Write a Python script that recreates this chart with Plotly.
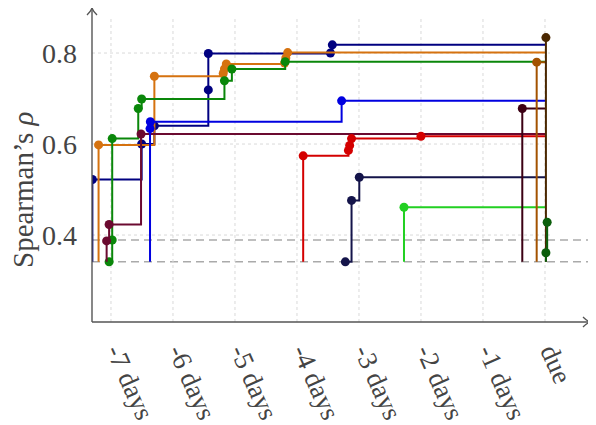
import plotly.graph_objects as go

# ---- axis / reference values ----
days = [-7, -6, -5, -4, -3, -2, -1, 0]
day_labels = ["-7 days", "-6 days", "-5 days", "-4 days", "-3 days", "-2 days", "-1 days", "due"]
rho_ticks = [0.4, 0.6, 0.8]
rho_labels = ["0.4", "0.6", "0.8"]
baseline_low = 0.341
baseline_high = 0.389
due = 0.0

# ---- series (x in days before due, y = Spearman's rho) ----
navy_x = [-7.30, -6.505, -6.30, -5.43, -5.43, -3.46, -3.43]
navy_y = [0.522, 0.600, 0.640, 0.719, 0.799, 0.800, 0.818]

orange_x = [-7.20, -6.30, -5.19, -5.17, -5.14, -4.20, -4.18, -4.15]
orange_y = [0.598, 0.749, 0.755, 0.765, 0.776, 0.778, 0.789, 0.801]

green_x = [-7.03, -6.98, -6.98, -6.56, -6.505, -5.17, -5.05, -4.19]
green_y = [0.341, 0.389, 0.612, 0.678, 0.699, 0.739, 0.765, 0.781]

maroon_x = [-7.07, -7.03, -6.515]
maroon_y = [0.387, 0.423, 0.622]

blue_x = [-6.37, -6.365, -3.28]
blue_y = [0.634, 0.649, 0.695]

red_x = [-3.90, -3.17, -3.15, -3.12, -2.00]
red_y = [0.574, 0.586, 0.597, 0.612, 0.617]

darknavy_x = [-3.22, -3.12, -2.995]
darknavy_y = [0.341, 0.476, 0.527]

lime_x = [-2.274]
lime_y = [0.461]

darkmaroon_x = [-0.366]
darkmaroon_y = [0.678]

brown_x = [-0.134]
brown_y = [0.780]

darkbrown_x = [0.015]
darkbrown_y = [0.834]

darkgreen_x = [0.015, 0.035]
darkgreen_y = [0.361, 0.428]

series = [
    (navy_x, navy_y, "#000080"),
    (orange_x, orange_y, "#d5720f"),
    (green_x, green_y, "#0a870a"),
    (maroon_x, maroon_y, "#6b0a30"),
    (blue_x, blue_y, "#0000e0"),
    (red_x, red_y, "#d40000"),
    (darknavy_x, darknavy_y, "#14144a"),
    (lime_x, lime_y, "#22d022"),
    (darkmaroon_x, darkmaroon_y, "#3c0014"),
    (brown_x, brown_y, "#a35200"),
    (darkbrown_x, darkbrown_y, "#4a2700"),
    (darkgreen_x, darkgreen_y, "#0b5e0b"),
]

X_RANGE = [-7.306, 0.726]
Y_RANGE = [0.2088, 0.899]
FONT = "Liberation Serif"
TXT = "#444444"

fig = go.Figure()

for xs, ys, col in series:
    lx = [xs[0]] + list(xs) + [max(due, xs[-1])]
    ly = [baseline_low] + list(ys) + [ys[-1]]
    fig.add_trace(go.Scatter(x=lx, y=ly, mode="lines", line=dict(color=col, width=2, shape="hv"),
                             hoverinfo="skip", showlegend=False))
    fig.add_trace(go.Scatter(x=xs, y=ys, mode="markers", marker=dict(color=col, size=9),
                             showlegend=False))

shapes = []
# dotted grid
for v in rho_ticks:
    shapes.append(dict(type="line", xref="x", yref="y", x0=X_RANGE[0], x1=0.08, y0=v, y1=v,
                       line=dict(color="#d9d9d9", width=1, dash="dot"), layer="below"))
for d in days:
    shapes.append(dict(type="line", xref="x", yref="y", x0=d, x1=d, y0=Y_RANGE[0], y1=0.88,
                       line=dict(color="#d9d9d9", width=1, dash="dot"), layer="below"))
# dashed baselines
for b in (baseline_high, baseline_low):
    shapes.append(dict(type="line", xref="paper", yref="y", x0=0, x1=1, y0=b, y1=b,
                       line=dict(color="#aaaaaa", width=1.5, dash="8px,5px"), layer="below"))
# axes with arrow tips
ax_col = "#555555"
shapes.append(dict(type="line", xref="paper", yref="paper", x0=0, x1=1, y0=0, y1=0,
                   line=dict(color=ax_col, width=1.4)))
shapes.append(dict(type="line", xref="paper", yref="paper", x0=0, x1=0, y0=0, y1=1,
                   line=dict(color=ax_col, width=1.4)))
W, H = 498.0, 314.0
shapes.append(dict(type="path", xref="paper", yref="paper",
                   path=f"M {1-7/W},{5/H} Q {1-3/W},{1/H} 1,0 Q {1-3/W},{-1/H} {1-7/W},{-5/H}",
                   line=dict(color=ax_col, width=1.3)))
shapes.append(dict(type="path", xref="paper", yref="paper",
                   path=f"M {-5/W},{1-7/H} Q {-1/W},{1-3/H} 0,1 Q {1/W},{1-3/H} {5/W},{1-7/H}",
                   line=dict(color=ax_col, width=1.3)))

# page body has an 8px margin, so the figure is drawn 8px smaller and offset
fig.update_layout(
    width=588, height=417,
    margin=dict(l=84, r=6, t=0, b=103, autoexpand=False),
    paper_bgcolor="white", plot_bgcolor="white",
    shapes=shapes,
    showlegend=False,
    xaxis=dict(range=X_RANGE, tickvals=days, ticktext=day_labels, tickangle=66,
               showgrid=False, zeroline=False, showline=False, ticks="",
               ticklabelstandoff=8, ticklabelshift=7, automargin=False,
               tickfont=dict(family=FONT, size=27, color=TXT)),
    yaxis=dict(range=Y_RANGE, tickvals=rho_ticks, ticktext=rho_labels,
               showgrid=False, zeroline=False, showline=False, ticks="",
               ticklabelstandoff=14, automargin=False,
               tickfont=dict(family=FONT, size=28, color=TXT)),
    annotations=[dict(text="Spearman’s <i>ρ</i>", xref="paper", yref="paper",
                      x=(23 - 92) / W, y=(322 - 190) / H, textangle=-90, showarrow=False,
                      xanchor="center", yanchor="middle",
                      font=dict(family=FONT, size=29, color=TXT))],
)

fig.write_html("out.html")
